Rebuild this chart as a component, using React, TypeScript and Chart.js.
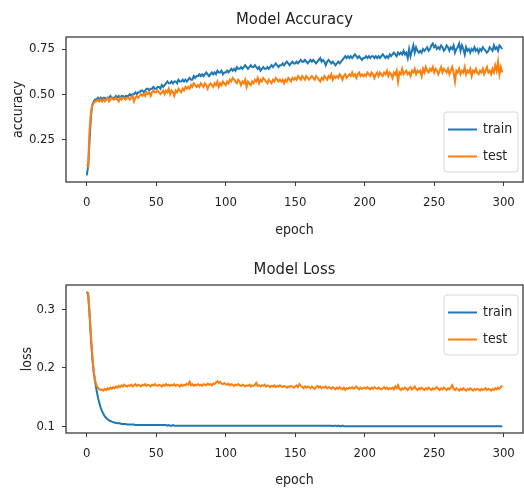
import React, { useEffect, useRef } from 'react';
import { Chart, registerables } from 'chart.js';

Chart.register(...registerables);

const FONT = "'DejaVu Sans Condensed', 'DejaVu Sans', sans-serif";

const X_TICKS = [0, 50, 100, 150, 200, 250, 300];
const ACC_TICKS = [0.25, 0.5, 0.75];
const LOSS_TICKS = [0.1, 0.2, 0.3];
const SERIES_LABELS = ['train', 'test'];
const SERIES_COLORS = ['#1f77b4', '#ff7f0e'];

const accTrain = [
  0.05, 0.10, 0.24, 0.38, 0.44, 0.46, 0.47, 0.47, 0.48, 0.47,
  0.48, 0.47, 0.48, 0.48, 0.47, 0.48, 0.48, 0.49, 0.48, 0.48,
  0.48, 0.49, 0.48, 0.49, 0.48, 0.49, 0.49, 0.48, 0.49, 0.49,
  0.49, 0.50, 0.49, 0.50, 0.50, 0.51, 0.50, 0.51, 0.51, 0.52,
  0.52, 0.51, 0.52, 0.53, 0.53, 0.52, 0.53, 0.53, 0.54, 0.53,
  0.53, 0.54, 0.54, 0.53, 0.55, 0.54, 0.55, 0.56, 0.57, 0.56,
  0.56, 0.57, 0.56, 0.57, 0.57, 0.56, 0.58, 0.57, 0.57, 0.58,
  0.57, 0.58, 0.57, 0.58, 0.59, 0.58, 0.58, 0.60, 0.59, 0.60,
  0.60, 0.61, 0.60, 0.61, 0.60, 0.61, 0.62, 0.61, 0.60, 0.61,
  0.62, 0.61, 0.62, 0.61, 0.63, 0.62, 0.62, 0.63, 0.61, 0.62,
  0.62, 0.63, 0.62, 0.63, 0.64, 0.63, 0.64, 0.63, 0.65, 0.64,
  0.64, 0.65, 0.64, 0.65, 0.66, 0.65, 0.64, 0.65, 0.66, 0.65,
  0.65, 0.66, 0.65, 0.64, 0.65, 0.63, 0.64, 0.65, 0.64, 0.64,
  0.65, 0.64, 0.65, 0.66, 0.65, 0.66, 0.67, 0.66, 0.65, 0.66,
  0.66, 0.67, 0.66, 0.67, 0.68, 0.67, 0.66, 0.67, 0.68, 0.67,
  0.67, 0.68, 0.67, 0.68, 0.69, 0.68, 0.68, 0.69, 0.68, 0.67,
  0.68, 0.69, 0.68, 0.69, 0.68, 0.67, 0.68, 0.69, 0.70, 0.68,
  0.69, 0.68, 0.66, 0.68, 0.69, 0.68, 0.67, 0.68, 0.67, 0.66,
  0.67, 0.68, 0.67, 0.68, 0.69, 0.70, 0.71, 0.70, 0.71, 0.70,
  0.71, 0.70, 0.71, 0.72, 0.71, 0.70, 0.71, 0.70, 0.69, 0.70,
  0.70, 0.71, 0.70, 0.71, 0.70, 0.71, 0.71, 0.70, 0.71, 0.70,
  0.71, 0.70, 0.71, 0.72, 0.71, 0.70, 0.71, 0.70, 0.72, 0.71,
  0.72, 0.73, 0.72, 0.71, 0.73, 0.72, 0.73, 0.72, 0.74, 0.72,
  0.73, 0.70, 0.75, 0.71, 0.74, 0.77, 0.73, 0.76, 0.74, 0.73,
  0.74, 0.73, 0.75, 0.74, 0.75, 0.76, 0.74, 0.75, 0.77, 0.78,
  0.76, 0.77, 0.75, 0.76, 0.75, 0.77, 0.76, 0.74, 0.75, 0.77,
  0.76, 0.74, 0.76, 0.75, 0.77, 0.73, 0.75, 0.76, 0.78, 0.74,
  0.77, 0.75, 0.72, 0.76, 0.74, 0.75, 0.73, 0.75, 0.74, 0.76,
  0.74, 0.75, 0.73, 0.75, 0.74, 0.76, 0.75, 0.74, 0.73, 0.74,
  0.76, 0.75, 0.74, 0.77, 0.75, 0.76, 0.74, 0.77, 0.76, 0.75,
];

const accTest = [
  0.11, 0.10, 0.30, 0.40, 0.44, 0.45, 0.46, 0.46, 0.47, 0.46,
  0.47, 0.46, 0.47, 0.46, 0.47, 0.48, 0.46, 0.47, 0.48, 0.47,
  0.47, 0.48, 0.47, 0.46, 0.48, 0.47, 0.48, 0.48, 0.47, 0.48,
  0.48, 0.47, 0.48, 0.49, 0.46, 0.48, 0.49, 0.48, 0.49, 0.50,
  0.49, 0.50, 0.49, 0.51, 0.50, 0.51, 0.49, 0.51, 0.52, 0.51,
  0.51, 0.52, 0.51, 0.50, 0.51, 0.52, 0.50, 0.52, 0.51, 0.53,
  0.50, 0.52, 0.51, 0.49, 0.52, 0.51, 0.53, 0.52, 0.51, 0.53,
  0.52, 0.54, 0.53, 0.54, 0.53, 0.55, 0.54, 0.56, 0.55, 0.54,
  0.55, 0.54, 0.56, 0.55, 0.54, 0.56, 0.55, 0.53, 0.55, 0.56,
  0.55, 0.54, 0.56, 0.55, 0.57, 0.54, 0.56, 0.55, 0.57, 0.56,
  0.55, 0.57, 0.56, 0.58, 0.57, 0.59, 0.58, 0.57, 0.56, 0.58,
  0.57, 0.55, 0.57, 0.56, 0.58, 0.54, 0.57, 0.56, 0.55, 0.57,
  0.56, 0.58, 0.57, 0.59, 0.56, 0.58, 0.57, 0.59, 0.58, 0.57,
  0.56, 0.58, 0.57, 0.56, 0.58, 0.57, 0.59, 0.58, 0.57, 0.58,
  0.57, 0.58, 0.56, 0.58, 0.57, 0.59, 0.58, 0.57, 0.59, 0.58,
  0.59, 0.58, 0.60, 0.59, 0.58, 0.60, 0.59, 0.58, 0.60, 0.59,
  0.58, 0.59, 0.60, 0.59, 0.58, 0.60, 0.59, 0.58, 0.57, 0.59,
  0.58, 0.60, 0.59, 0.58, 0.60, 0.59, 0.61, 0.58, 0.60, 0.59,
  0.60, 0.59, 0.61, 0.60, 0.58, 0.60, 0.61, 0.59, 0.60, 0.61,
  0.60, 0.62, 0.60, 0.61, 0.59, 0.61, 0.62, 0.60, 0.61, 0.60,
  0.61, 0.60, 0.62, 0.61, 0.60, 0.62, 0.61, 0.59, 0.61, 0.62,
  0.60, 0.62, 0.61, 0.60, 0.62, 0.61, 0.63, 0.60, 0.62, 0.61,
  0.59, 0.62, 0.61, 0.63, 0.57, 0.62, 0.61, 0.64, 0.61, 0.62,
  0.63, 0.61, 0.62, 0.60, 0.63, 0.62, 0.64, 0.61, 0.63, 0.62,
  0.63, 0.60, 0.64, 0.62, 0.65, 0.63, 0.62, 0.64, 0.63, 0.65,
  0.62, 0.64, 0.63, 0.61, 0.63, 0.65, 0.62, 0.64, 0.63, 0.62,
  0.64, 0.61, 0.63, 0.65, 0.62, 0.57, 0.63, 0.62, 0.64, 0.61,
  0.63, 0.62, 0.65, 0.61, 0.63, 0.62, 0.64, 0.60, 0.63, 0.62,
  0.64, 0.62, 0.61, 0.63, 0.62, 0.64, 0.61, 0.63, 0.65, 0.62,
  0.63, 0.61, 0.64, 0.62, 0.66, 0.63, 0.68, 0.61, 0.65, 0.62,
];

const lossTrain = [
  0.330, 0.325, 0.290, 0.250, 0.215, 0.192, 0.176, 0.162, 0.150, 0.140,
  0.132, 0.126, 0.121, 0.117, 0.114, 0.112, 0.110, 0.109, 0.108, 0.107,
  0.106, 0.106, 0.105, 0.105, 0.105, 0.104, 0.104, 0.104, 0.104, 0.103,
  0.103, 0.103, 0.103, 0.103, 0.103, 0.102, 0.102, 0.102, 0.102, 0.102,
  0.102, 0.102, 0.102, 0.102, 0.102, 0.102, 0.102, 0.102, 0.102, 0.102,
  0.102, 0.102, 0.102, 0.102, 0.102, 0.102, 0.102, 0.102, 0.101, 0.102,
  0.101, 0.101, 0.102, 0.101, 0.101, 0.101, 0.101, 0.101, 0.101, 0.101,
  0.101, 0.101, 0.101, 0.101, 0.101, 0.101, 0.101, 0.101, 0.101, 0.101,
  0.101, 0.101, 0.101, 0.101, 0.101, 0.101, 0.101, 0.101, 0.101, 0.101,
  0.101, 0.101, 0.101, 0.101, 0.101, 0.101, 0.101, 0.101, 0.101, 0.101,
  0.101, 0.101, 0.101, 0.101, 0.101, 0.101, 0.101, 0.101, 0.101, 0.101,
  0.101, 0.101, 0.101, 0.101, 0.101, 0.101, 0.101, 0.101, 0.101, 0.101,
  0.101, 0.101, 0.101, 0.101, 0.101, 0.101, 0.101, 0.101, 0.101, 0.101,
  0.101, 0.101, 0.101, 0.101, 0.101, 0.101, 0.101, 0.101, 0.101, 0.101,
  0.101, 0.101, 0.101, 0.101, 0.101, 0.101, 0.101, 0.101, 0.101, 0.101,
  0.101, 0.101, 0.101, 0.101, 0.101, 0.101, 0.101, 0.101, 0.101, 0.101,
  0.101, 0.101, 0.101, 0.101, 0.101, 0.101, 0.101, 0.101, 0.101, 0.101,
  0.101, 0.101, 0.101, 0.101, 0.101, 0.101, 0.101, 0.100, 0.101, 0.101,
  0.100, 0.101, 0.100, 0.100, 0.101, 0.100, 0.100, 0.100, 0.100, 0.100,
  0.100, 0.100, 0.100, 0.100, 0.100, 0.100, 0.100, 0.100, 0.100, 0.100,
  0.100, 0.100, 0.100, 0.100, 0.100, 0.100, 0.100, 0.100, 0.100, 0.100,
  0.100, 0.100, 0.100, 0.100, 0.100, 0.100, 0.100, 0.100, 0.100, 0.100,
  0.100, 0.100, 0.100, 0.100, 0.100, 0.100, 0.100, 0.100, 0.100, 0.100,
  0.100, 0.100, 0.100, 0.100, 0.100, 0.100, 0.100, 0.100, 0.100, 0.100,
  0.100, 0.100, 0.100, 0.100, 0.100, 0.100, 0.100, 0.100, 0.100, 0.100,
  0.100, 0.100, 0.100, 0.100, 0.100, 0.100, 0.100, 0.100, 0.100, 0.100,
  0.100, 0.100, 0.100, 0.100, 0.100, 0.100, 0.100, 0.100, 0.100, 0.100,
  0.100, 0.100, 0.100, 0.100, 0.100, 0.100, 0.100, 0.100, 0.100, 0.100,
  0.100, 0.100, 0.100, 0.100, 0.100, 0.100, 0.100, 0.100, 0.100, 0.100,
  0.100, 0.100, 0.100, 0.100, 0.100, 0.100, 0.100, 0.100, 0.100, 0.100,
];

const lossTest = [
  0.330, 0.328, 0.295, 0.255, 0.220, 0.195, 0.178, 0.170, 0.166, 0.163,
  0.162, 0.163, 0.161, 0.164, 0.162, 0.165, 0.163, 0.166, 0.164, 0.167,
  0.165, 0.168, 0.166, 0.169, 0.167, 0.170, 0.168, 0.171, 0.169, 0.168,
  0.170, 0.169, 0.171, 0.168, 0.170, 0.172, 0.169, 0.171, 0.170, 0.168,
  0.171, 0.170, 0.172, 0.169, 0.171, 0.170, 0.168, 0.171, 0.170, 0.172,
  0.170, 0.169, 0.171, 0.170, 0.168, 0.171, 0.169, 0.172, 0.170, 0.171,
  0.169, 0.171, 0.170, 0.172, 0.169, 0.171, 0.170, 0.168, 0.171, 0.169,
  0.171, 0.170, 0.173, 0.171, 0.176, 0.170, 0.172, 0.169, 0.171, 0.170,
  0.172, 0.170, 0.171, 0.169, 0.172, 0.171, 0.170, 0.173, 0.171, 0.172,
  0.170, 0.173, 0.172, 0.175, 0.177, 0.174, 0.176, 0.173, 0.172, 0.174,
  0.172, 0.171, 0.173, 0.170, 0.172, 0.171, 0.169, 0.171, 0.170, 0.172,
  0.170, 0.169, 0.171, 0.170, 0.168, 0.170, 0.169, 0.171, 0.168, 0.170,
  0.169, 0.171, 0.174, 0.169, 0.170, 0.168, 0.170, 0.169, 0.171, 0.168,
  0.170, 0.169, 0.167, 0.169, 0.168, 0.170, 0.167, 0.169, 0.168, 0.170,
  0.168, 0.167, 0.169, 0.168, 0.166, 0.168, 0.167, 0.169, 0.168, 0.166,
  0.168, 0.170, 0.167, 0.172, 0.169, 0.167, 0.165, 0.168, 0.166, 0.168,
  0.167, 0.165, 0.168, 0.166, 0.164, 0.167, 0.169, 0.166, 0.168, 0.165,
  0.167, 0.166, 0.168, 0.165, 0.167, 0.166, 0.164, 0.167, 0.165, 0.163,
  0.166, 0.164, 0.167, 0.165, 0.163, 0.166, 0.162, 0.165, 0.164, 0.166,
  0.165, 0.167, 0.164, 0.166, 0.168, 0.165, 0.163, 0.166, 0.164, 0.165,
  0.166, 0.164, 0.167, 0.165, 0.163, 0.166, 0.164, 0.167, 0.165, 0.164,
  0.166, 0.164, 0.163, 0.165, 0.167, 0.164, 0.166, 0.163, 0.165, 0.164,
  0.166, 0.163, 0.168, 0.165, 0.170, 0.164, 0.162, 0.165, 0.163, 0.166,
  0.164, 0.162, 0.165, 0.167, 0.163, 0.165, 0.168, 0.164, 0.162, 0.165,
  0.163, 0.166, 0.164, 0.162, 0.165, 0.163, 0.166, 0.164, 0.162, 0.165,
  0.163, 0.165, 0.167, 0.164, 0.162, 0.165, 0.163, 0.166, 0.164, 0.162,
  0.165, 0.163, 0.166, 0.170, 0.164, 0.162, 0.165, 0.163, 0.161, 0.164,
  0.162, 0.165, 0.163, 0.161, 0.164, 0.162, 0.165, 0.163, 0.161, 0.164,
  0.162, 0.164, 0.163, 0.161, 0.164, 0.162, 0.163, 0.165, 0.162, 0.164,
  0.163, 0.161, 0.164, 0.162, 0.165, 0.163, 0.166, 0.164, 0.167, 0.170,
];

const TEXT = '#222222';
const SPINE = '#3a3a3a';

const framePlugin = {
  id: 'mplFrame',
  afterDatasetsDraw(chart: any) {
    const { ctx, chartArea } = chart;
    ctx.save();
    ctx.strokeStyle = SPINE;
    ctx.lineWidth = 1.3;
    ctx.strokeRect(chartArea.left, chartArea.top, chartArea.right - chartArea.left, chartArea.bottom - chartArea.top);
    ctx.restore();
  },
};

const legendPlugin = {
  id: 'mplLegend',
  afterDatasetsDraw(chart: any, _args: any, opts: any) {
    const { ctx, chartArea } = chart;
    const w = 74;
    const h = 60;
    const x = chartArea.right - 5 - w;
    const y = opts.loc === 'lower right' ? chartArea.bottom - 10 - h : chartArea.top + 10;
    ctx.save();
    ctx.beginPath();
    const r = 3;
    ctx.moveTo(x + r, y);
    ctx.lineTo(x + w - r, y);
    ctx.quadraticCurveTo(x + w, y, x + w, y + r);
    ctx.lineTo(x + w, y + h - r);
    ctx.quadraticCurveTo(x + w, y + h, x + w - r, y + h);
    ctx.lineTo(x + r, y + h);
    ctx.quadraticCurveTo(x, y + h, x, y + h - r);
    ctx.lineTo(x, y + r);
    ctx.quadraticCurveTo(x, y, x + r, y);
    ctx.closePath();
    ctx.fillStyle = 'rgba(255,255,255,0.85)';
    ctx.fill();
    ctx.strokeStyle = '#d6d6d6';
    ctx.lineWidth = 1;
    ctx.stroke();
    const items = chart.data.datasets.map((d: any, i: number) => ({ d, i }));
    items.sort((a: any, b: any) => (a.d.legendIndex ?? a.i) - (b.d.legendIndex ?? b.i));
    items.forEach((it: any, k: number) => {
      const cy = y + 17.5 + k * 27;
      ctx.strokeStyle = it.d.borderColor;
      ctx.lineWidth = 2;
      ctx.beginPath();
      ctx.moveTo(x + 4, cy);
      ctx.lineTo(x + 33, cy);
      ctx.stroke();
      ctx.fillStyle = TEXT;
      ctx.font = `14px ${FONT}`;
      ctx.textBaseline = 'middle';
      ctx.textAlign = 'left';
      ctx.fillText(it.d.label, x + 39, cy);
    });
    ctx.restore();
  },
};

function range(arrs: number[][]) {
  let mn = Infinity;
  let mx = -Infinity;
  arrs.forEach((a) => a.forEach((v) => { if (v < mn) mn = v; if (v > mx) mx = v; }));
  const m = (mx - mn) * 0.05;
  return { min: mn - m, max: mx + m };
}

type Cfg = {
  title: string;
  yLabel: string;
  train: number[];
  test: number[];
  yTicks: number[];
  yDigits: number;
  height: number;
  titlePad: { top: number; bottom: number };
  xAxisHeight: number;
  xTitlePadBottom: number;
  yTitlePad: number;
  legendLoc: string;
};

function makeConfig(c: Cfg): any {
  const n = c.train.length;
  const xr = { min: -(n - 1) * 0.05, max: (n - 1) * 1.05 };
  const yr = range([c.train, c.test]);
  const toPts = (arr: number[]) => arr.map((v, i) => ({ x: i, y: v }));
  return {
    type: 'line',
    data: {
      datasets: [
        { label: SERIES_LABELS[0], data: toPts(c.train), borderColor: SERIES_COLORS[0], backgroundColor: SERIES_COLORS[0], borderWidth: 2, pointRadius: 0, tension: 0, order: 1, legendIndex: 0 },
        { label: SERIES_LABELS[1], data: toPts(c.test), borderColor: SERIES_COLORS[1], backgroundColor: SERIES_COLORS[1], borderWidth: 2, pointRadius: 0, tension: 0, order: 0, legendIndex: 1 },
      ],
    },
    options: {
      animation: false,
      responsive: false,
      maintainAspectRatio: false,
      events: [],
      layout: { padding: { left: 0, right: 1, top: 0, bottom: 0 } },
      plugins: {
        legend: { display: false },
        tooltip: { enabled: false },
        title: {
          display: true,
          fullSize: false,
          text: c.title,
          color: TEXT,
          font: { family: FONT, size: 16.5, weight: 'normal', lineHeight: 1.2 },
          padding: c.titlePad,
        },
        mplLegend: { loc: c.legendLoc },
      },
      scales: {
        x: {
          type: 'linear',
          min: xr.min,
          max: xr.max,
          afterBuildTicks: (s: any) => { s.ticks = X_TICKS.map((v) => ({ value: v })); },
          afterFit: (s: any) => { s.height = c.xAxisHeight; },
          ticks: { color: TEXT, font: { family: FONT, size: 13 }, padding: 9, maxRotation: 0, autoSkip: false, callback: (v: any) => String(v) },
          grid: { display: true, drawOnChartArea: false, drawTicks: true, tickLength: 4, color: SPINE, lineWidth: 1 },
          border: { display: false },
          title: { display: true, text: 'epoch', color: TEXT, font: { family: FONT, size: 14, lineHeight: 1.2 }, padding: { top: 0, bottom: c.xTitlePadBottom } },
        },
        y: {
          type: 'linear',
          min: yr.min,
          max: yr.max,
          afterBuildTicks: (s: any) => { s.ticks = c.yTicks.map((v) => ({ value: v })); },
          afterFit: (s: any) => { s.width = 66; },
          ticks: { color: TEXT, font: { family: FONT, size: 13 }, padding: 7, autoSkip: false, callback: (v: any) => Number(v).toFixed(c.yDigits) },
          grid: { display: true, drawOnChartArea: false, drawTicks: true, tickLength: 4, color: SPINE, lineWidth: 1 },
          border: { display: false },
          title: { display: true, text: c.yLabel, color: TEXT, font: { family: FONT, size: 14, lineHeight: 1.2 }, padding: { top: c.yTitlePad, bottom: 0 } },
        },
      },
    },
    plugins: [framePlugin, legendPlugin],
  };
}

function ChartCanvas({ cfg, top }: { cfg: Cfg; top: number }) {
  const ref = useRef<HTMLCanvasElement | null>(null);
  useEffect(() => {
    if (!ref.current) return;
    const chart = new Chart(ref.current, makeConfig(cfg));
    return () => chart.destroy();
  }, [cfg]);
  return (
    <canvas
      ref={ref}
      width={524}
      height={cfg.height}
      style={{ position: 'absolute', left: 0, top, width: 524, height: cfg.height, display: 'block' }}
    />
  );
}

const accCfg: Cfg = {
  title: 'Model Accuracy',
  yLabel: 'accuracy',
  train: accTrain,
  test: accTest,
  yTicks: ACC_TICKS,
  yDigits: 2,
  height: 250,
  titlePad: { top: 10.1, bottom: 7.1 },
  xAxisHeight: 68,
  xTitlePadBottom: 11.6,
  yTitlePad: 9.6,
  legendLoc: 'lower right',
};

const lossCfg: Cfg = {
  title: 'Model Loss',
  yLabel: 'loss',
  train: lossTrain,
  test: lossTest,
  yTicks: LOSS_TICKS,
  yDigits: 1,
  height: 243,
  titlePad: { top: 10.1, bottom: 5.1 },
  xAxisHeight: 60,
  xTitlePadBottom: 4.6,
  yTitlePad: 18.6,
  legendLoc: 'upper right',
};

export default function App() {
  return (
    <div style={{ position: 'absolute', left: 0, top: 0, width: 524, height: 493, background: '#ffffff', overflow: 'hidden' }}>
      <ChartCanvas cfg={accCfg} top={0} />
      <ChartCanvas cfg={lossCfg} top={250} />
    </div>
  );
}
